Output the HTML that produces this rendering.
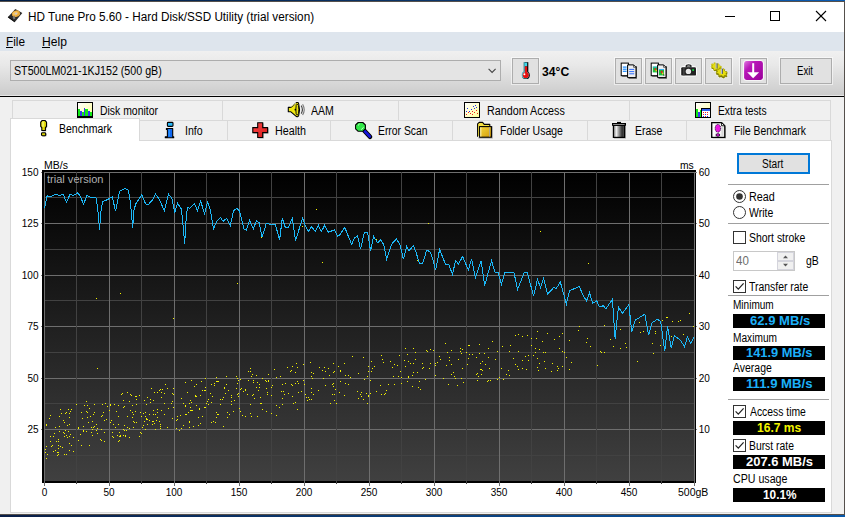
<!DOCTYPE html>
<html><head><meta charset="utf-8"><title>HD Tune Pro 5.60 - Hard Disk/SSD Utility (trial version)</title>
<style>
html,body{margin:0;padding:0}
body{width:845px;height:517px;overflow:hidden;position:relative;background:#f0f0f0;font-family:"Liberation Sans",sans-serif;font-size:12px;color:#000}
.b{position:absolute;box-sizing:border-box}
.t{position:absolute;white-space:nowrap;transform-origin:0 0;display:block}
svg{position:absolute;overflow:visible}
.btn{background:#e1e1e1;border:1px solid #adadad;box-shadow:0 0 0 1px rgba(255,255,255,.55)}
.blk{background:#000}
.sep{background:#a0a0a0;height:1px}
.chk{background:#fff;border:1px solid #333}
</style></head><body>
<div class="b" style="left:0px;top:0px;width:845px;height:1px;background:linear-gradient(90deg,#001c44 0%,#0a3468 50%,#0a5cb4 100%)"></div><div class="b" style="left:0px;top:1px;width:845px;height:1px;background:#55504c"></div><div class="b" style="left:0px;top:2px;width:844px;height:30px;background:#fff"></div><svg style="left:6px;top:7px" width="18" height="18" viewBox="6 7 18 18">
<polygon points="7.8,17.2 15.3,9.0 22.3,13.1 14.7,22.3" fill="#2a2a2a"/>
<polygon points="7.8,17.2 14.7,22.3 14.7,21.2 8.6,16.6" fill="#111"/>
<ellipse cx="16" cy="13.8" rx="4.1" ry="3.2" fill="#e8a83a" transform="rotate(-20 16 13.8)"/>
<ellipse cx="15.6" cy="13.3" rx="2.6" ry="1.9" fill="#f6c766" transform="rotate(-20 16 13.8)"/>
<ellipse cx="16.1" cy="13.6" rx="1.1" ry="0.9" fill="#c8c8d8"/>
<polygon points="12.6,17.2 14.6,15.6 15.4,18.8 13.6,19.6" fill="#777"/>
</svg><span class="t" style="left:27.64px;top:10.64px;font-size:12px;line-height:12px;color:#000;transform:scaleX(0.9772);">HD Tune Pro 5.60 - Hard Disk/SSD Utility (trial version)</span><svg style="left:0;top:0" width="845" height="32" shape-rendering="crispEdges">
<rect x="725" y="16" width="10" height="1" fill="#000"/>
<rect x="770.5" y="11.5" width="9" height="9" fill="none" stroke="#000" stroke-width="1"/>
<g shape-rendering="auto" stroke="#000" stroke-width="1.1"><line x1="816" y1="11" x2="826" y2="21"/><line x1="826" y1="11" x2="816" y2="21"/></g>
</svg><div class="b" style="left:0px;top:32px;width:844px;height:19px;background:#dee5ed"></div><span class="t" style="left:6.13px;top:36.34px;font-size:12px;line-height:12px;color:#000;transform:scaleX(0.9820);">File</span><div class="b" style="left:6px;top:47px;width:7px;height:1px;background:#000"></div><span class="t" style="left:42.01px;top:36.34px;font-size:12px;line-height:12px;color:#000;transform:scaleX(1.0083);">Help</span><div class="b" style="left:42px;top:47px;width:8px;height:1px;background:#000"></div><div class="b" style="left:0px;top:51px;width:844px;height:44px;background:linear-gradient(180deg,#f0f0f0 0%,#e9e9e9 30%,#cccccc 100%)"></div><div class="b" style="left:0px;top:95px;width:844px;height:1px;background:#e6e6e6"></div><div class="b" style="left:0px;top:96px;width:844px;height:1px;background:#000"></div><div class="b" style="left:10px;top:60px;width:491px;height:21px;background:#e4e4e4;border:1px solid #adadad"></div><span class="t" style="left:13.92px;top:64.84px;font-size:12px;line-height:12px;color:#000;transform:scaleX(0.8895);">ST500LM021-1KJ152 (500 gB)</span><svg style="left:486px;top:67px" width="12" height="8"><polyline points="2.6,1.9 6.1,5.4 9.6,1.9" fill="none" stroke="#444" stroke-width="1.1"/></svg><div class="b btn" style="left:512px;top:58px;width:27px;height:26px;"></div><svg style="left:519px;top:61px" width="14" height="19" viewBox="519 61 14 19">
<rect x="523.8" y="62.2" width="4.5" height="12" fill="#000"/>
<circle cx="525.9" cy="75.2" r="3.9" fill="#000"/>
<circle cx="525.3" cy="74.9" r="3.6" fill="#48c8d8"/>
<circle cx="525.7" cy="75.0" r="3.1" fill="#e81010"/>
<rect x="523.8" y="62.2" width="1" height="10.6" fill="#48c8d8"/>
<rect x="524.8" y="62.6" width="2.4" height="3.8" fill="#40d8e8"/>
<rect x="524.8" y="66.4" width="2.4" height="7" fill="#e81010"/>
<circle cx="524.4" cy="74.2" r="1" fill="#fff"/>
</svg><span class="t" style="left:542.33px;top:65.64px;font-size:12px;line-height:12px;font-weight:bold;color:#000;transform:scaleX(1.0145);">34°C</span><div class="b btn" style="left:615px;top:58px;width:27px;height:26px;"></div><div class="b btn" style="left:645px;top:58px;width:27px;height:26px;"></div><div class="b btn" style="left:675px;top:58px;width:27px;height:26px;"></div><div class="b btn" style="left:705px;top:58px;width:27px;height:26px;"></div><div class="b btn" style="left:740px;top:58px;width:27px;height:26px;"></div><div class="b btn" style="left:780px;top:58px;width:52px;height:26px;"></div><span class="t" style="left:797.12px;top:64.54px;font-size:12px;line-height:12px;color:#000;transform:scaleX(0.7974);">Exit</span><svg style="left:0;top:51px" width="845" height="45" viewBox="0 51 845 45">
<!-- copy text -->
<g>
<rect x="622.2" y="64.2" width="7.4" height="12.6" fill="#000" opacity=".55"/>
<rect x="621.2" y="63.1" width="7.2" height="12.6" fill="#fff" stroke="#000" stroke-width="1"/>
<rect x="622.8" y="66.5" width="3.8" height="1.2" fill="#1488ff"/><rect x="622.8" y="68.6" width="3.8" height="1.2" fill="#1488ff"/><rect x="622.8" y="70.7" width="3.8" height="1.2" fill="#1488ff"/>
<rect x="628.6" y="66" width="8.4" height="12.8" fill="#000" opacity=".55"/>
<polygon points="627.6,64.9 633.6,64.9 636,67.3 636,77.6 627.6,77.6" fill="#eee" stroke="#000" stroke-width="1"/>
<polygon points="633.6,64.9 636,67.3 633.6,67.3" fill="#fff" stroke="#000" stroke-width=".6"/>
<rect x="629.2" y="68.9" width="5" height="1" fill="#2d6cff"/><rect x="629.2" y="71.1" width="5" height="1" fill="#2d6cff"/><rect x="629.2" y="73.3" width="5" height="1" fill="#2d6cff"/>
</g>
<!-- copy screenshot -->
<g>
<rect x="652.2" y="64.2" width="7.4" height="12.6" fill="#000" opacity=".55"/>
<rect x="651.2" y="63.1" width="7.2" height="12.6" fill="#fff" stroke="#000" stroke-width="1"/>
<rect x="652.8" y="66.6" width="4.6" height="5.8" fill="#18c040"/><rect x="652.8" y="66.6" width="4.6" height="1" fill="#30b0f0"/>
<rect x="654.6" y="68.2" width="1.6" height="2.2" fill="#e02020"/><rect x="655.6" y="69.8" width="1.4" height="1.6" fill="#f0d020"/>
<rect x="658.6" y="66" width="8.4" height="12.8" fill="#000" opacity=".55"/>
<polygon points="657.6,64.9 663.6,64.9 666,67.3 666,77.6 657.6,77.6" fill="#eee" stroke="#000" stroke-width="1"/>
<polygon points="663.6,64.9 666,67.3 663.6,67.3" fill="#fff" stroke="#000" stroke-width=".6"/>
<rect x="659" y="69" width="5" height="6.4" fill="#18c040"/><rect x="659" y="69" width="5" height="1" fill="#30b0f0"/>
<rect x="660.8" y="70.8" width="1.8" height="2.4" fill="#e02020"/><rect x="662" y="72.6" width="1.4" height="1.8" fill="#f0d020"/>
<rect x="663.4" y="74.6" width="1" height="1" fill="#000"/>
</g>
<!-- camera -->
<g>
<path d="M680.2,69.2 q0,-3 3,-3 h1.2 q0.6,-3 4,-3 q3.4,0 4,3 h1.6 q3,0 3,3 v4.6 q0,2.8 -3,2.8 h-10.8 q-3,0 -3,-2.8 z" fill="#fff"/>
<rect x="681.2" y="67.2" width="14.8" height="8.4" rx="1.2" fill="#222"/>
<path d="M685.6,67.4 v-1.6 q0,-1.6 3,-1.6 q3,0 3,1.6 v1.6 z" fill="#222"/>
<path d="M686.8,66.4 q0,-1 1.8,-1 q1.8,0 1.8,1 z" fill="#ddd"/>
<rect x="683.4" y="67.2" width="1" height="8.4" fill="#555"/>
<circle cx="688.4" cy="71.4" r="2.7" fill="#e8e8e8"/>
<rect x="692.3" y="69.2" width="1.7" height="1.7" fill="#10e040"/>
</g>
<!-- gears -->
<g>
<polygon points="721.5,70.3 721.3,70.6 721.1,70.9 720.9,71.2 719.6,70.7 719.4,70.8 719.1,70.9 718.7,71.0 719.0,72.0 718.5,72.1 718.0,72.1 717.5,72.1 716.8,71.1 716.4,71.0 716.0,70.9 715.6,70.8 714.9,71.4 714.4,71.1 713.9,70.9 713.5,70.6 713.8,69.8 713.5,69.5 713.2,69.2 713.0,68.9 711.7,68.8 711.5,68.4 711.3,68.0 711.2,67.6 712.3,67.4 712.2,67.1 712.3,66.8 712.3,66.5 711.3,65.7 711.5,65.4 711.7,65.1 711.9,64.8 713.2,65.3 713.4,65.2 713.7,65.1 714.1,65.0 713.8,64.0 714.3,63.9 714.8,63.9 715.3,63.9 716.0,64.9 716.4,65.0 716.8,65.1 717.2,65.2 717.9,64.6 718.4,64.9 718.9,65.1 719.3,65.4 719.0,66.2 719.3,66.5 719.6,66.8 719.8,67.1 721.1,67.2 721.3,67.6 721.5,68.0 721.6,68.4 720.5,68.6 720.6,68.9 720.5,69.2 720.5,69.5" fill="#fff" stroke="#fff" stroke-width="1.4" stroke-linejoin="round"/>
<polygon points="727.1,76.1 726.9,76.4 726.7,76.8 726.4,77.1 725.1,76.5 724.8,76.7 724.5,76.8 724.1,77.0 724.4,78.0 723.9,78.0 723.3,78.1 722.8,78.1 722.1,77.0 721.7,77.0 721.3,76.9 720.8,76.7 720.1,77.4 719.6,77.1 719.1,76.8 718.6,76.5 718.9,75.6 718.6,75.3 718.3,75.0 718.1,74.7 716.7,74.6 716.5,74.2 716.3,73.7 716.2,73.3 717.3,73.1 717.3,72.7 717.3,72.4 717.4,72.1 716.3,71.3 716.5,71.0 716.7,70.6 717.0,70.3 718.3,70.9 718.6,70.7 718.9,70.6 719.3,70.4 719.0,69.4 719.5,69.4 720.1,69.3 720.6,69.3 721.3,70.4 721.7,70.4 722.1,70.5 722.6,70.7 723.3,70.0 723.8,70.3 724.3,70.6 724.8,70.9 724.5,71.8 724.8,72.1 725.1,72.4 725.3,72.7 726.7,72.8 726.9,73.2 727.1,73.7 727.2,74.1 726.1,74.3 726.1,74.7 726.1,75.0 726.0,75.3" fill="#fff" stroke="#fff" stroke-width="1.6" stroke-linejoin="round"/>
<polygon points="721.5,70.3 721.3,70.6 721.1,70.9 720.9,71.2 719.6,70.7 719.4,70.8 719.1,70.9 718.7,71.0 719.0,72.0 718.5,72.1 718.0,72.1 717.5,72.1 716.8,71.1 716.4,71.0 716.0,70.9 715.6,70.8 714.9,71.4 714.4,71.1 713.9,70.9 713.5,70.6 713.8,69.8 713.5,69.5 713.2,69.2 713.0,68.9 711.7,68.8 711.5,68.4 711.3,68.0 711.2,67.6 712.3,67.4 712.2,67.1 712.3,66.8 712.3,66.5 711.3,65.7 711.5,65.4 711.7,65.1 711.9,64.8 713.2,65.3 713.4,65.2 713.7,65.1 714.1,65.0 713.8,64.0 714.3,63.9 714.8,63.9 715.3,63.9 716.0,64.9 716.4,65.0 716.8,65.1 717.2,65.2 717.9,64.6 718.4,64.9 718.9,65.1 719.3,65.4 719.0,66.2 719.3,66.5 719.6,66.8 719.8,67.1 721.1,67.2 721.3,67.6 721.5,68.0 721.6,68.4 720.5,68.6 720.6,68.9 720.5,69.2 720.5,69.5" fill="#7c7800"/>
<polygon points="721.5,69.2 721.3,69.5 721.1,69.8 720.9,70.1 719.6,69.6 719.4,69.7 719.1,69.8 718.7,69.9 719.0,70.9 718.5,71.0 718.0,71.0 717.5,71.0 716.8,70.0 716.4,69.9 716.0,69.8 715.6,69.7 714.9,70.3 714.4,70.0 713.9,69.8 713.5,69.5 713.8,68.7 713.5,68.4 713.2,68.1 713.0,67.8 711.7,67.7 711.5,67.3 711.3,66.9 711.2,66.5 712.3,66.3 712.2,66.0 712.3,65.7 712.3,65.4 711.3,64.6 711.5,64.3 711.7,64.0 711.9,63.7 713.2,64.2 713.4,64.1 713.7,64.0 714.1,63.9 713.8,62.9 714.3,62.8 714.8,62.8 715.3,62.8 716.0,63.8 716.4,63.9 716.8,64.0 717.2,64.1 717.9,63.5 718.4,63.8 718.9,64.0 719.3,64.3 719.0,65.1 719.3,65.4 719.6,65.7 719.8,66.0 721.1,66.1 721.3,66.5 721.5,66.9 721.6,67.3 720.5,67.5 720.6,67.8 720.5,68.1 720.5,68.4" fill="#e6de10" stroke="#a8a200" stroke-width=".5"/>
<rect x="715.5" y="63.3" width="1.2" height="5.2" fill="#b8bcc8"/><rect x="716.7" y="63.3" width=".9" height="5.2" fill="#505868"/>
<polygon points="727.1,76.1 726.9,76.4 726.7,76.8 726.4,77.1 725.1,76.5 724.8,76.7 724.5,76.8 724.1,77.0 724.4,78.0 723.9,78.0 723.3,78.1 722.8,78.1 722.1,77.0 721.7,77.0 721.3,76.9 720.8,76.7 720.1,77.4 719.6,77.1 719.1,76.8 718.6,76.5 718.9,75.6 718.6,75.3 718.3,75.0 718.1,74.7 716.7,74.6 716.5,74.2 716.3,73.7 716.2,73.3 717.3,73.1 717.3,72.7 717.3,72.4 717.4,72.1 716.3,71.3 716.5,71.0 716.7,70.6 717.0,70.3 718.3,70.9 718.6,70.7 718.9,70.6 719.3,70.4 719.0,69.4 719.5,69.4 720.1,69.3 720.6,69.3 721.3,70.4 721.7,70.4 722.1,70.5 722.6,70.7 723.3,70.0 723.8,70.3 724.3,70.6 724.8,70.9 724.5,71.8 724.8,72.1 725.1,72.4 725.3,72.7 726.7,72.8 726.9,73.2 727.1,73.7 727.2,74.1 726.1,74.3 726.1,74.7 726.1,75.0 726.0,75.3" fill="#7c7800" stroke="#7c7800" stroke-width=".7"/>
<polygon points="727.1,74.8 726.9,75.1 726.7,75.5 726.4,75.8 725.1,75.2 724.8,75.4 724.5,75.5 724.1,75.7 724.4,76.7 723.9,76.7 723.3,76.8 722.8,76.8 722.1,75.7 721.7,75.7 721.3,75.6 720.8,75.4 720.1,76.1 719.6,75.8 719.1,75.5 718.6,75.2 718.9,74.3 718.6,74.0 718.3,73.7 718.1,73.4 716.7,73.3 716.5,72.9 716.3,72.4 716.2,72.0 717.3,71.8 717.3,71.4 717.3,71.1 717.4,70.8 716.3,70.0 716.5,69.7 716.7,69.3 717.0,69.0 718.3,69.6 718.6,69.4 718.9,69.3 719.3,69.1 719.0,68.1 719.5,68.1 720.1,68.0 720.6,68.0 721.3,69.1 721.7,69.1 722.1,69.2 722.6,69.4 723.3,68.7 723.8,69.0 724.3,69.3 724.8,69.6 724.5,70.5 724.8,70.8 725.1,71.1 725.3,71.4 726.7,71.5 726.9,71.9 727.1,72.4 727.2,72.8 726.1,73.0 726.1,73.4 726.1,73.7 726.0,74.0" fill="#e6de10" stroke="#8a8600" stroke-width=".7"/>
<rect x="720.8" y="68.7" width="1.2" height="5.2" fill="#b8bcc8"/><rect x="722" y="68.7" width=".9" height="5.2" fill="#505868"/>
</g>
<!-- purple arrow -->
<g>
<defs><linearGradient id="pg" x1="0" y1="0" x2="1" y2="1"><stop offset="0" stop-color="#e078e0"/><stop offset=".3" stop-color="#b818b8"/><stop offset="1" stop-color="#9a009a"/></linearGradient></defs>
<rect x="743.2" y="60.2" width="20.6" height="20.6" rx="3" fill="#fff" opacity=".9"/>
<rect x="744.1" y="61.1" width="18.8" height="18.8" rx="2.4" fill="url(#pg)"/>
<rect x="752.2" y="63.2" width="2" height="11" fill="#fff"/>
<polygon points="747.2,72.2 759.1,72.2 753.15,78.3" fill="#fff"/>
</g>
</svg><div class="b" style="left:12px;top:100px;width:819px;height:21px;border:1px solid #d9d9d9;background:#f0f0f0"></div><div class="b" style="left:222px;top:100px;width:1px;height:21px;background:#d9d9d9"></div><div class="b" style="left:398px;top:100px;width:1px;height:21px;background:#d9d9d9"></div><div class="b" style="left:629px;top:100px;width:1px;height:21px;background:#d9d9d9"></div><div class="b" style="left:139px;top:120px;width:692px;height:21px;border:1px solid #d9d9d9;background:#f0f0f0"></div><div class="b" style="left:227px;top:120px;width:1px;height:21px;background:#d9d9d9"></div><div class="b" style="left:330px;top:120px;width:1px;height:21px;background:#d9d9d9"></div><div class="b" style="left:452px;top:120px;width:1px;height:21px;background:#d9d9d9"></div><div class="b" style="left:587px;top:120px;width:1px;height:21px;background:#d9d9d9"></div><div class="b" style="left:686px;top:120px;width:1px;height:21px;background:#d9d9d9"></div><div class="b" style="left:10px;top:140px;width:822px;height:373px;border:1px solid #d9d9d9;background:#fff"></div><div class="b" style="left:10px;top:118px;width:130px;height:23px;border:1px solid #d9d9d9;border-bottom:none;background:#fff"></div><span class="t" style="left:99.95px;top:104.74px;font-size:12px;line-height:12px;color:#000;transform:scaleX(0.8686);">Disk monitor</span><span class="t" style="left:310.98px;top:104.54px;font-size:12px;line-height:12px;color:#000;transform:scaleX(0.8801);">AAM</span><span class="t" style="left:486.92px;top:104.64px;font-size:12px;line-height:12px;color:#000;transform:scaleX(0.8969);">Random Access</span><span class="t" style="left:717.76px;top:104.74px;font-size:12px;line-height:12px;color:#000;transform:scaleX(0.8576);">Extra tests</span><span class="t" style="left:58.94px;top:123.34px;font-size:12px;line-height:12px;color:#000;transform:scaleX(0.8738);">Benchmark</span><span class="t" style="left:185.03px;top:124.74px;font-size:12px;line-height:12px;color:#000;transform:scaleX(0.8795);">Info</span><span class="t" style="left:274.62px;top:124.74px;font-size:12px;line-height:12px;color:#000;transform:scaleX(0.8959);">Health</span><span class="t" style="left:377.95px;top:124.64px;font-size:12px;line-height:12px;color:#000;transform:scaleX(0.8634);">Error Scan</span><span class="t" style="left:499.74px;top:124.64px;font-size:12px;line-height:12px;color:#000;transform:scaleX(0.8735);">Folder Usage</span><span class="t" style="left:634.64px;top:124.64px;font-size:12px;line-height:12px;color:#000;transform:scaleX(0.8715);">Erase</span><span class="t" style="left:734.35px;top:124.64px;font-size:12px;line-height:12px;color:#000;transform:scaleX(0.8616);">File Benchmark</span><svg style="left:0;top:98px" width="845" height="44" viewBox="0 98 845 44">
<defs>
<linearGradient id="yl" x1="0" y1="0" x2="1" y2="1"><stop offset="0" stop-color="#ffffff"/><stop offset="1" stop-color="#ffff9a"/></linearGradient>
<linearGradient id="fold" x1="0" y1="0" x2="1" y2="1"><stop offset="0" stop-color="#f4d840"/><stop offset="1" stop-color="#d49c08"/></linearGradient>
<linearGradient id="can" x1="0" y1="0" x2="1" y2="0"><stop offset="0" stop-color="#666"/><stop offset=".26" stop-color="#f2f2f2"/><stop offset=".48" stop-color="#999"/><stop offset=".78" stop-color="#303030"/><stop offset="1" stop-color="#555"/></linearGradient>
<linearGradient id="redg" x1="0" y1="0" x2="1" y2="1"><stop offset="0" stop-color="#ff4848"/><stop offset="1" stop-color="#d01818"/></linearGradient>
</defs>
<!-- disk monitor -->
<g shape-rendering="crispEdges">
<rect x="77" y="102" width="16" height="16" fill="#000"/>
<rect x="78" y="103" width="14" height="13" fill="url(#yl)"/>
<rect x="78" y="109" width="2" height="7" fill="#10e818"/>
<rect x="80" y="111" width="2" height="5" fill="#3838f0"/>
<rect x="82" y="112" width="2" height="4" fill="#10e818"/>
<rect x="84" y="108" width="1" height="8" fill="#3838f0"/>
<rect x="85" y="109" width="3" height="7" fill="#10e818"/>
<rect x="88" y="111" width="2" height="5" fill="#3838f0"/>
<rect x="90" y="112" width="2" height="4" fill="#10e818"/>
</g>
<!-- AAM speaker -->
<g>
<path d="M288.3,107.4 h2.6 l5.6,-4.8 q1.6,-.6 2.2,1.2 q1.6,5.8 0,11.6 q-.6,1.8 -2.2,1.2 l-5.6,-4.8 h-2.6 z" fill="#f0e810" stroke="#000" stroke-width="1.1" stroke-linejoin="round"/>
<ellipse cx="297.3" cy="109.6" rx="1.5" ry="5.6" fill="#e8e010" stroke="#000" stroke-width=".9"/>
<rect x="294.6" y="108.9" width="1.6" height="1.5" fill="#000"/>
<path d="M290.6,106.8 l5.4,-3.6" stroke="#ffffa0" stroke-width=".8"/>
<path d="M301.2,105.6 q2.4,4 0,8" fill="none" stroke="#444" stroke-width="1.1"/>
<path d="M302.6,104.2 q3.2,5.4 0,10.8" fill="none" stroke="#777" stroke-width="1.1"/>
</g>
<!-- random access -->
<g shape-rendering="crispEdges">
<rect x="464" y="102" width="16.4" height="16.2" fill="#000"/>
<rect x="465" y="103" width="13.8" height="13.6" fill="url(#yl)"/>
<g fill="#2030f0"><rect x="467" y="108" width="1" height="1"/><rect x="469" y="111" width="1" height="1"/><rect x="471" y="109" width="1" height="1"/><rect x="473" y="106" width="1" height="1"/><rect x="475" y="105" width="1" height="1"/><rect x="474" y="108" width="1" height="1"/><rect x="466" y="111" width="1" height="1"/><rect x="476" y="107" width="1" height="1"/></g>
<g fill="#f02020"><rect x="466" y="114" width="1" height="1"/><rect x="468" y="112" width="1" height="1"/><rect x="470" y="113" width="1" height="1"/><rect x="472" y="111" width="1" height="1"/><rect x="474" y="112" width="1" height="1"/><rect x="476" y="110" width="1" height="1"/><rect x="477" y="113" width="1" height="1"/><rect x="472" y="114" width="1" height="1"/></g>
</g>
<!-- extra tests -->
<g shape-rendering="crispEdges">
<rect x="695" y="102" width="16.4" height="16.2" fill="#000"/>
<rect x="696" y="103" width="14" height="13.6" fill="url(#yl)"/>
<rect x="696" y="109" width="2" height="7.6" fill="#10e818"/>
<rect x="698" y="112" width="2" height="4.6" fill="#3838f0"/>
<rect x="700" y="110" width="1" height="6.6" fill="#10e818"/>
<rect x="701" y="108" width="10" height="10" fill="#000"/>
<rect x="702" y="109" width="8" height="1.6" fill="#3060f0"/>
<rect x="702" y="110.6" width="8" height="6.2" fill="#fff"/>
<g fill="#f02020"><rect x="703" y="112" width="1" height="1"/><rect x="705" y="112" width="1" height="1"/><rect x="707" y="112" width="1" height="1"/><rect x="703" y="114" width="1" height="1"/><rect x="707" y="114" width="1" height="1"/><rect x="705" y="115.6" width="1" height="1"/></g>
<g fill="#2030f0"><rect x="705" y="114" width="1" height="1"/><rect x="703" y="115.6" width="1" height="1"/><rect x="707" y="115.6" width="1" height="1"/></g>
</g>
<!-- benchmark exclamation -->
<g>
<path d="M42.9,121.2 h2.8 l1.6,1.6 v4.2 l-1.1,1.4 v3 h-3.8 v-3 l-1.1,-1.4 v-4.2 z" fill="#555" opacity=".5"/>
<path d="M42.2,120.5 h2.8 l1.5,1.6 v4.2 l-1.1,1.4 v2.8 h-3.6 v-2.8 l-1.1,-1.4 v-4.2 z" fill="#e4dc08" stroke="#000" stroke-width="1.1" stroke-linejoin="round"/>
<rect x="42.2" y="121.6" width="1.6" height="5.2" fill="#f8f890" opacity=".8"/>
<rect x="42.2" y="133.4" width="4.4" height="3.2" rx="1" fill="#555" opacity=".5"/>
<rect x="41.5" y="132.7" width="4.2" height="3" rx=".9" fill="#d8d000" stroke="#000" stroke-width="1.1"/>
</g>
<!-- info -->
<g>
<rect x="167.4" y="122.4" width="5.6" height="4" rx=".8" fill="#28b8f8" stroke="#000" stroke-width="1.1"/>
<path d="M166.4,128.5 h6.3 v8.3 h1 v1 h-8.4 v-1 h2.1 v-7.3 h-1 z" fill="#1068f0" stroke="#000" stroke-width="1.1" stroke-linejoin="round"/>
<rect x="168.6" y="129.6" width="1.4" height="6.6" fill="#30a0ff" opacity=".7"/>
</g>
<!-- health cross -->
<g>
<path d="M258.4,123.4 h5.4 v4.8 h4.9 v5.4 h-4.9 v4.8 h-5.4 v-4.8 h-4.9 v-5.4 h4.9 z" fill="#555" opacity=".45"/>
<path d="M257.7,122.7 h5 v4.9 h4.9 v5 h-4.9 v4.9 h-5 v-4.9 h-4.9 v-5 h4.9 z" fill="url(#redg)" stroke="#000" stroke-width="1.1" stroke-linejoin="miter"/>
</g>
<!-- error scan magnifier -->
<g>
<path d="M364.4,130.8 l5.6,6" stroke="#000" stroke-width="4.6" stroke-linecap="round"/>
<path d="M364.6,131 l5.2,5.5" stroke="#1414d8" stroke-width="2.6" stroke-linecap="round"/>
<polygon points="358.2,122.5 362.8,122.5 365.4,125 365.4,128.8 362.8,131.3 358.2,131.3 355.6,128.8 355.6,125" fill="#30e848" stroke="#000" stroke-width="1.1" stroke-linejoin="round"/>
<path d="M358,125.4 l1.6,-1.4 M361.2,129.6 l2.4,-2.3" stroke="#d8ffd8" stroke-width=".9"/>
</g>
<!-- folder -->
<g>
<path d="M478.4,137.9 h13.8 v-11 h-1" fill="none" stroke="#555" stroke-width="1.2" opacity=".5"/>
<path d="M477.6,136.8 v-13 l1.6,-1.4 h3.4 l1.6,2 h5.6 v2.2" fill="#f4e040" stroke="#000" stroke-width="1.1" stroke-linejoin="round"/>
<rect x="479.6" y="126.6" width="11.8" height="10.6" fill="url(#fold)" stroke="#000" stroke-width="1.1"/>
<rect x="480.3" y="127.3" width="1" height="9.2" fill="#fff8c0"/>
<rect x="489" y="127.2" width=".8" height="9.4" fill="#a8a8a0"/>
</g>
<!-- erase trash can -->
<g>
<rect x="614" y="126" width="12" height="12.6" fill="#555" opacity=".4"/>
<rect x="613.4" y="125.2" width="11.2" height="12.2" fill="url(#can)" stroke="#000" stroke-width="1.2"/>
<rect x="617" y="121.9" width="4" height="2" fill="#000"/>
<rect x="612" y="123" width="14" height="2.8" fill="#000"/>
<rect x="613.2" y="124" width="11.4" height=".9" fill="#999"/>
</g>
<!-- file benchmark -->
<g>
<polygon points="712.6,123.4 722.6,123.4 726,126.8 726,138.6 712.6,138.6" fill="#555" opacity=".4"/>
<polygon points="711.7,122.6 721.6,122.6 724.8,125.8 724.8,137.3 711.7,137.3" fill="#f4f4f4" stroke="#000" stroke-width="1.3" stroke-linejoin="miter"/>
<polygon points="721.6,122.6 721.6,125.8 724.8,125.8" fill="#fff" stroke="#000" stroke-width=".9"/>
<rect x="713" y="124" width="2" height="12.4" fill="#fff"/><rect x="721.4" y="126.8" width="2" height="9.6" fill="#d8d8d8"/>
<ellipse cx="717.9" cy="128.3" rx="2.7" ry="3.9" fill="#e818e0" stroke="#201030" stroke-width=".9" stroke-dasharray="1.2 .8"/>
<ellipse cx="717.9" cy="135" rx="1.9" ry="1.3" fill="#e818e0" stroke="#201030" stroke-width=".9"/>
</g>
</svg><svg style="left:0;top:150px" width="845" height="352" viewBox="0 150 845 352"><defs><linearGradient id="gbg" x1="0" y1="0" x2="0" y2="1"><stop offset="0" stop-color="#000"/><stop offset="1" stop-color="#404040"/></linearGradient></defs><g shape-rendering="crispEdges"><rect x="42" y="170" width="654" height="313" fill="#000"/><rect x="44" y="172" width="651" height="309" fill="url(#gbg)"/><rect x="44" y="172" width="651" height="1" fill="#6e6e6e"/><rect x="41" y="172" width="1" height="1" fill="#808080"/><rect x="695" y="172" width="2" height="1" fill="#808080"/><rect x="44" y="197" width="651" height="1" fill="#424242"/><rect x="44" y="223" width="651" height="1" fill="#6e6e6e"/><rect x="41" y="223" width="1" height="1" fill="#808080"/><rect x="695" y="223" width="2" height="1" fill="#808080"/><rect x="44" y="249" width="651" height="1" fill="#424242"/><rect x="44" y="275" width="651" height="1" fill="#6e6e6e"/><rect x="41" y="275" width="1" height="1" fill="#808080"/><rect x="695" y="275" width="2" height="1" fill="#808080"/><rect x="44" y="300" width="651" height="1" fill="#424242"/><rect x="44" y="326" width="651" height="1" fill="#6e6e6e"/><rect x="41" y="326" width="1" height="1" fill="#808080"/><rect x="695" y="326" width="2" height="1" fill="#808080"/><rect x="44" y="352" width="651" height="1" fill="#424242"/><rect x="44" y="378" width="651" height="1" fill="#6e6e6e"/><rect x="41" y="378" width="1" height="1" fill="#808080"/><rect x="695" y="378" width="2" height="1" fill="#808080"/><rect x="44" y="403" width="651" height="1" fill="#424242"/><rect x="44" y="429" width="651" height="1" fill="#6e6e6e"/><rect x="41" y="429" width="1" height="1" fill="#808080"/><rect x="695" y="429" width="2" height="1" fill="#808080"/><rect x="44" y="455" width="651" height="1" fill="#424242"/><rect x="695" y="173" width="1" height="310" fill="#000"/><rect x="42" y="481" width="654" height="2" fill="#000"/><rect x="44" y="172" width="1" height="314" fill="#6e6e6e"/><rect x="76" y="172" width="1" height="312" fill="#424242"/><rect x="109" y="172" width="1" height="314" fill="#6e6e6e"/><rect x="141" y="172" width="1" height="312" fill="#424242"/><rect x="174" y="172" width="1" height="314" fill="#6e6e6e"/><rect x="206" y="172" width="1" height="312" fill="#424242"/><rect x="239" y="172" width="1" height="314" fill="#6e6e6e"/><rect x="271" y="172" width="1" height="312" fill="#424242"/><rect x="304" y="172" width="1" height="314" fill="#6e6e6e"/><rect x="336" y="172" width="1" height="312" fill="#424242"/><rect x="369" y="172" width="1" height="314" fill="#6e6e6e"/><rect x="401" y="172" width="1" height="312" fill="#424242"/><rect x="434" y="172" width="1" height="314" fill="#6e6e6e"/><rect x="466" y="172" width="1" height="312" fill="#424242"/><rect x="499" y="172" width="1" height="314" fill="#6e6e6e"/><rect x="531" y="172" width="1" height="312" fill="#424242"/><rect x="564" y="172" width="1" height="314" fill="#6e6e6e"/><rect x="596" y="172" width="1" height="312" fill="#424242"/><rect x="629" y="172" width="1" height="314" fill="#6e6e6e"/><rect x="661" y="172" width="1" height="312" fill="#424242"/><rect x="694" y="172" width="1" height="314" fill="#6e6e6e"/><path d="M45,449h1v1h-1zM45,452h1v1h-1zM46,458h1v1h-1zM46,424h1v1h-1zM46,446h1v1h-1zM46,425h1v1h-1zM47,454h1v1h-1zM49,418h1v1h-1zM50,441h1v1h-1zM50,441h1v1h-1zM50,415h1v1h-1zM50,436h1v1h-1zM51,446h1v1h-1zM52,445h1v1h-1zM53,451h1v1h-1zM53,436h1v1h-1zM54,433h1v1h-1zM55,450h1v1h-1zM55,427h1v1h-1zM56,441h1v1h-1zM57,452h1v1h-1zM57,455h1v1h-1zM58,439h1v1h-1zM58,441h1v1h-1zM58,454h1v1h-1zM58,448h1v1h-1zM58,445h1v1h-1zM58,452h1v1h-1zM59,416h1v1h-1zM59,426h1v1h-1zM59,431h1v1h-1zM60,409h1v1h-1zM60,446h1v1h-1zM61,413h1v1h-1zM62,447h1v1h-1zM63,420h1v1h-1zM63,432h1v1h-1zM64,454h1v1h-1zM64,436h1v1h-1zM64,454h1v1h-1zM64,433h1v1h-1zM64,422h1v1h-1zM65,430h1v1h-1zM65,413h1v1h-1zM66,435h1v1h-1zM66,454h1v1h-1zM66,412h1v1h-1zM67,425h1v1h-1zM67,437h1v1h-1zM68,409h1v1h-1zM68,431h1v1h-1zM69,443h1v1h-1zM69,436h1v1h-1zM69,424h1v1h-1zM69,450h1v1h-1zM69,417h1v1h-1zM69,413h1v1h-1zM70,411h1v1h-1zM70,434h1v1h-1zM71,445h1v1h-1zM71,409h1v1h-1zM73,437h1v1h-1zM73,451h1v1h-1zM76,404h1v1h-1zM78,440h1v1h-1zM78,427h1v1h-1zM78,428h1v1h-1zM80,434h1v1h-1zM81,412h1v1h-1zM81,445h1v1h-1zM82,418h1v1h-1zM83,426h1v1h-1zM83,430h1v1h-1zM83,431h1v1h-1zM84,405h1v1h-1zM86,401h1v1h-1zM86,431h1v1h-1zM86,411h1v1h-1zM87,417h1v1h-1zM87,405h1v1h-1zM87,412h1v1h-1zM88,422h1v1h-1zM89,445h1v1h-1zM89,408h1v1h-1zM90,416h1v1h-1zM91,427h1v1h-1zM91,432h1v1h-1zM92,429h1v1h-1zM92,421h1v1h-1zM92,435h1v1h-1zM93,427h1v1h-1zM93,414h1v1h-1zM94,426h1v1h-1zM94,404h1v1h-1zM94,412h1v1h-1zM96,424h1v1h-1zM96,430h1v1h-1zM97,433h1v1h-1zM97,428h1v1h-1zM100,439h1v1h-1zM101,416h1v1h-1zM101,429h1v1h-1zM101,440h1v1h-1zM102,415h1v1h-1zM102,404h1v1h-1zM103,412h1v1h-1zM104,441h1v1h-1zM104,432h1v1h-1zM104,420h1v1h-1zM105,403h1v1h-1zM106,419h1v1h-1zM107,406h1v1h-1zM109,410h1v1h-1zM110,405h1v1h-1zM110,422h1v1h-1zM110,404h1v1h-1zM111,420h1v1h-1zM112,432h1v1h-1zM112,436h1v1h-1zM113,437h1v1h-1zM113,424h1v1h-1zM114,404h1v1h-1zM115,427h1v1h-1zM116,411h1v1h-1zM117,435h1v1h-1zM118,441h1v1h-1zM118,405h1v1h-1zM118,416h1v1h-1zM118,424h1v1h-1zM119,432h1v1h-1zM119,440h1v1h-1zM119,436h1v1h-1zM120,436h1v1h-1zM120,435h1v1h-1zM121,394h1v1h-1zM122,393h1v1h-1zM123,400h1v1h-1zM123,407h1v1h-1zM123,435h1v1h-1zM123,429h1v1h-1zM124,425h1v1h-1zM124,430h1v1h-1zM124,406h1v1h-1zM125,436h1v1h-1zM125,435h1v1h-1zM126,430h1v1h-1zM127,416h1v1h-1zM127,392h1v1h-1zM127,427h1v1h-1zM129,401h1v1h-1zM129,428h1v1h-1zM129,437h1v1h-1zM130,394h1v1h-1zM130,410h1v1h-1zM131,395h1v1h-1zM132,417h1v1h-1zM132,412h1v1h-1zM132,405h1v1h-1zM133,421h1v1h-1zM133,414h1v1h-1zM133,427h1v1h-1zM134,422h1v1h-1zM135,396h1v1h-1zM135,411h1v1h-1zM136,396h1v1h-1zM136,422h1v1h-1zM136,404h1v1h-1zM136,399h1v1h-1zM139,395h1v1h-1zM139,436h1v1h-1zM140,432h1v1h-1zM140,412h1v1h-1zM141,433h1v1h-1zM141,416h1v1h-1zM142,427h1v1h-1zM143,425h1v1h-1zM143,413h1v1h-1zM144,400h1v1h-1zM144,421h1v1h-1zM145,416h1v1h-1zM145,429h1v1h-1zM145,412h1v1h-1zM146,419h1v1h-1zM146,404h1v1h-1zM146,418h1v1h-1zM147,397h1v1h-1zM147,419h1v1h-1zM147,424h1v1h-1zM149,414h1v1h-1zM149,420h1v1h-1zM150,402h1v1h-1zM150,399h1v1h-1zM151,388h1v1h-1zM152,424h1v1h-1zM152,421h1v1h-1zM153,414h1v1h-1zM153,414h1v1h-1zM153,410h1v1h-1zM153,400h1v1h-1zM153,421h1v1h-1zM154,392h1v1h-1zM154,423h1v1h-1zM155,429h1v1h-1zM155,414h1v1h-1zM156,420h1v1h-1zM157,392h1v1h-1zM157,409h1v1h-1zM157,412h1v1h-1zM157,417h1v1h-1zM159,421h1v1h-1zM159,390h1v1h-1zM160,426h1v1h-1zM160,424h1v1h-1zM160,389h1v1h-1zM160,428h1v1h-1zM161,410h1v1h-1zM161,392h1v1h-1zM161,397h1v1h-1zM162,389h1v1h-1zM164,414h1v1h-1zM164,403h1v1h-1zM164,393h1v1h-1zM165,384h1v1h-1zM167,388h1v1h-1zM167,427h1v1h-1zM168,408h1v1h-1zM171,403h1v1h-1zM172,401h1v1h-1zM172,418h1v1h-1zM172,393h1v1h-1zM173,394h1v1h-1zM173,407h1v1h-1zM173,388h1v1h-1zM176,420h1v1h-1zM176,428h1v1h-1zM177,419h1v1h-1zM177,416h1v1h-1zM179,430h1v1h-1zM180,415h1v1h-1zM181,398h1v1h-1zM181,428h1v1h-1zM183,425h1v1h-1zM183,403h1v1h-1zM185,382h1v1h-1zM185,414h1v1h-1zM185,405h1v1h-1zM185,406h1v1h-1zM186,414h1v1h-1zM187,392h1v1h-1zM188,412h1v1h-1zM189,403h1v1h-1zM189,422h1v1h-1zM189,421h1v1h-1zM189,427h1v1h-1zM190,410h1v1h-1zM190,407h1v1h-1zM190,400h1v1h-1zM191,410h1v1h-1zM191,380h1v1h-1zM191,402h1v1h-1zM192,410h1v1h-1zM193,426h1v1h-1zM194,386h1v1h-1zM195,396h1v1h-1zM195,395h1v1h-1zM196,405h1v1h-1zM196,384h1v1h-1zM196,396h1v1h-1zM198,417h1v1h-1zM198,425h1v1h-1zM199,409h1v1h-1zM199,408h1v1h-1zM200,395h1v1h-1zM200,423h1v1h-1zM201,381h1v1h-1zM202,416h1v1h-1zM202,390h1v1h-1zM204,407h1v1h-1zM204,390h1v1h-1zM205,390h1v1h-1zM205,407h1v1h-1zM205,387h1v1h-1zM205,378h1v1h-1zM206,403h1v1h-1zM207,401h1v1h-1zM208,399h1v1h-1zM208,404h1v1h-1zM210,393h1v1h-1zM211,422h1v1h-1zM211,402h1v1h-1zM211,384h1v1h-1zM212,396h1v1h-1zM213,421h1v1h-1zM214,385h1v1h-1zM214,383h1v1h-1zM215,422h1v1h-1zM216,377h1v1h-1zM216,412h1v1h-1zM216,381h1v1h-1zM216,417h1v1h-1zM217,381h1v1h-1zM217,414h1v1h-1zM218,381h1v1h-1zM218,414h1v1h-1zM220,399h1v1h-1zM220,404h1v1h-1zM222,399h1v1h-1zM223,426h1v1h-1zM223,397h1v1h-1zM224,387h1v1h-1zM224,388h1v1h-1zM225,393h1v1h-1zM226,376h1v1h-1zM226,384h1v1h-1zM227,417h1v1h-1zM227,412h1v1h-1zM228,390h1v1h-1zM229,414h1v1h-1zM231,404h1v1h-1zM231,397h1v1h-1zM231,401h1v1h-1zM231,395h1v1h-1zM233,411h1v1h-1zM233,411h1v1h-1zM234,400h1v1h-1zM234,400h1v1h-1zM236,388h1v1h-1zM236,376h1v1h-1zM237,378h1v1h-1zM237,383h1v1h-1zM237,394h1v1h-1zM238,393h1v1h-1zM238,380h1v1h-1zM238,396h1v1h-1zM239,408h1v1h-1zM240,379h1v1h-1zM240,411h1v1h-1zM240,389h1v1h-1zM241,388h1v1h-1zM242,415h1v1h-1zM243,391h1v1h-1zM245,389h1v1h-1zM245,390h1v1h-1zM245,416h1v1h-1zM247,394h1v1h-1zM248,371h1v1h-1zM248,380h1v1h-1zM250,404h1v1h-1zM250,368h1v1h-1zM250,371h1v1h-1zM250,413h1v1h-1zM251,416h1v1h-1zM251,376h1v1h-1zM252,374h1v1h-1zM252,395h1v1h-1zM253,382h1v1h-1zM253,380h1v1h-1zM253,394h1v1h-1zM253,394h1v1h-1zM254,398h1v1h-1zM256,375h1v1h-1zM256,387h1v1h-1zM257,416h1v1h-1zM257,382h1v1h-1zM258,390h1v1h-1zM259,384h1v1h-1zM259,387h1v1h-1zM260,397h1v1h-1zM260,403h1v1h-1zM261,403h1v1h-1zM262,378h1v1h-1zM262,409h1v1h-1zM265,380h1v1h-1zM266,381h1v1h-1zM266,411h1v1h-1zM266,388h1v1h-1zM267,394h1v1h-1zM267,392h1v1h-1zM268,380h1v1h-1zM268,374h1v1h-1zM268,381h1v1h-1zM271,395h1v1h-1zM271,413h1v1h-1zM271,387h1v1h-1zM272,385h1v1h-1zM274,369h1v1h-1zM276,377h1v1h-1zM276,405h1v1h-1zM276,415h1v1h-1zM279,407h1v1h-1zM280,376h1v1h-1zM281,391h1v1h-1zM282,384h1v1h-1zM282,404h1v1h-1zM282,398h1v1h-1zM283,391h1v1h-1zM284,394h1v1h-1zM285,383h1v1h-1zM287,367h1v1h-1zM288,393h1v1h-1zM290,371h1v1h-1zM291,384h1v1h-1zM291,370h1v1h-1zM292,366h1v1h-1zM292,396h1v1h-1zM292,385h1v1h-1zM293,403h1v1h-1zM295,402h1v1h-1zM295,372h1v1h-1zM295,383h1v1h-1zM296,363h1v1h-1zM297,381h1v1h-1zM297,367h1v1h-1zM297,409h1v1h-1zM298,392h1v1h-1zM298,383h1v1h-1zM301,391h1v1h-1zM303,380h1v1h-1zM303,364h1v1h-1zM304,384h1v1h-1zM305,394h1v1h-1zM306,397h1v1h-1zM307,400h1v1h-1zM308,397h1v1h-1zM309,399h1v1h-1zM310,362h1v1h-1zM311,376h1v1h-1zM311,399h1v1h-1zM311,372h1v1h-1zM311,392h1v1h-1zM311,388h1v1h-1zM312,378h1v1h-1zM312,378h1v1h-1zM313,394h1v1h-1zM313,373h1v1h-1zM318,390h1v1h-1zM319,367h1v1h-1zM322,370h1v1h-1zM323,378h1v1h-1zM324,367h1v1h-1zM325,371h1v1h-1zM325,385h1v1h-1zM328,368h1v1h-1zM329,375h1v1h-1zM330,403h1v1h-1zM332,394h1v1h-1zM332,384h1v1h-1zM333,372h1v1h-1zM333,386h1v1h-1zM333,363h1v1h-1zM333,383h1v1h-1zM334,400h1v1h-1zM334,394h1v1h-1zM334,371h1v1h-1zM335,389h1v1h-1zM336,403h1v1h-1zM338,366h1v1h-1zM339,392h1v1h-1zM340,371h1v1h-1zM340,370h1v1h-1zM340,381h1v1h-1zM344,395h1v1h-1zM344,363h1v1h-1zM345,383h1v1h-1zM345,375h1v1h-1zM348,375h1v1h-1zM348,384h1v1h-1zM350,377h1v1h-1zM352,356h1v1h-1zM357,391h1v1h-1zM358,373h1v1h-1zM358,398h1v1h-1zM360,394h1v1h-1zM361,396h1v1h-1zM361,392h1v1h-1zM363,399h1v1h-1zM363,357h1v1h-1zM364,379h1v1h-1zM366,393h1v1h-1zM367,403h1v1h-1zM367,376h1v1h-1zM368,396h1v1h-1zM368,395h1v1h-1zM368,371h1v1h-1zM368,366h1v1h-1zM370,380h1v1h-1zM370,393h1v1h-1zM371,371h1v1h-1zM371,361h1v1h-1zM372,368h1v1h-1zM374,366h1v1h-1zM376,391h1v1h-1zM380,385h1v1h-1zM381,355h1v1h-1zM381,394h1v1h-1zM382,359h1v1h-1zM383,362h1v1h-1zM384,394h1v1h-1zM385,393h1v1h-1zM386,390h1v1h-1zM388,384h1v1h-1zM390,361h1v1h-1zM392,367h1v1h-1zM393,376h1v1h-1zM394,384h1v1h-1zM394,364h1v1h-1zM397,365h1v1h-1zM398,376h1v1h-1zM399,355h1v1h-1zM400,371h1v1h-1zM401,377h1v1h-1zM401,383h1v1h-1zM404,360h1v1h-1zM405,366h1v1h-1zM405,348h1v1h-1zM407,381h1v1h-1zM407,354h1v1h-1zM408,361h1v1h-1zM408,377h1v1h-1zM408,376h1v1h-1zM410,363h1v1h-1zM412,375h1v1h-1zM412,386h1v1h-1zM413,372h1v1h-1zM413,348h1v1h-1zM413,363h1v1h-1zM415,359h1v1h-1zM415,352h1v1h-1zM417,372h1v1h-1zM418,387h1v1h-1zM419,381h1v1h-1zM420,389h1v1h-1zM422,363h1v1h-1zM422,368h1v1h-1zM423,367h1v1h-1zM425,379h1v1h-1zM426,350h1v1h-1zM427,351h1v1h-1zM429,368h1v1h-1zM430,363h1v1h-1zM430,349h1v1h-1zM433,350h1v1h-1zM435,375h1v1h-1zM435,365h1v1h-1zM435,363h1v1h-1zM437,362h1v1h-1zM439,356h1v1h-1zM440,359h1v1h-1zM443,378h1v1h-1zM445,343h1v1h-1zM446,365h1v1h-1zM447,352h1v1h-1zM448,384h1v1h-1zM449,357h1v1h-1zM449,360h1v1h-1zM451,374h1v1h-1zM451,350h1v1h-1zM451,364h1v1h-1zM453,372h1v1h-1zM454,376h1v1h-1zM455,378h1v1h-1zM457,385h1v1h-1zM458,359h1v1h-1zM460,348h1v1h-1zM460,351h1v1h-1zM461,353h1v1h-1zM461,378h1v1h-1zM462,349h1v1h-1zM462,368h1v1h-1zM463,382h1v1h-1zM466,352h1v1h-1zM467,364h1v1h-1zM468,358h1v1h-1zM468,345h1v1h-1zM469,345h1v1h-1zM469,354h1v1h-1zM472,354h1v1h-1zM476,374h1v1h-1zM476,357h1v1h-1zM477,373h1v1h-1zM477,380h1v1h-1zM478,376h1v1h-1zM479,353h1v1h-1zM479,344h1v1h-1zM480,369h1v1h-1zM480,363h1v1h-1zM481,374h1v1h-1zM481,369h1v1h-1zM482,361h1v1h-1zM482,370h1v1h-1zM484,353h1v1h-1zM485,364h1v1h-1zM487,381h1v1h-1zM488,348h1v1h-1zM488,380h1v1h-1zM488,357h1v1h-1zM489,368h1v1h-1zM490,380h1v1h-1zM492,341h1v1h-1zM495,359h1v1h-1zM497,379h1v1h-1zM497,351h1v1h-1zM499,377h1v1h-1zM501,368h1v1h-1zM502,346h1v1h-1zM503,379h1v1h-1zM506,374h1v1h-1zM508,370h1v1h-1zM509,351h1v1h-1zM509,375h1v1h-1zM510,345h1v1h-1zM513,358h1v1h-1zM515,335h1v1h-1zM515,364h1v1h-1zM517,366h1v1h-1zM518,369h1v1h-1zM518,334h1v1h-1zM518,351h1v1h-1zM522,336h1v1h-1zM522,360h1v1h-1zM522,368h1v1h-1zM525,356h1v1h-1zM526,369h1v1h-1zM527,335h1v1h-1zM528,355h1v1h-1zM528,360h1v1h-1zM531,338h1v1h-1zM531,345h1v1h-1zM533,355h1v1h-1zM535,352h1v1h-1zM535,348h1v1h-1zM536,338h1v1h-1zM537,367h1v1h-1zM537,331h1v1h-1zM537,358h1v1h-1zM538,370h1v1h-1zM539,363h1v1h-1zM539,349h1v1h-1zM542,341h1v1h-1zM543,352h1v1h-1zM544,361h1v1h-1zM545,352h1v1h-1zM545,368h1v1h-1zM547,333h1v1h-1zM551,371h1v1h-1zM552,363h1v1h-1zM554,339h1v1h-1zM557,370h1v1h-1zM557,366h1v1h-1zM558,368h1v1h-1zM559,336h1v1h-1zM559,348h1v1h-1zM562,333h1v1h-1zM562,366h1v1h-1zM562,351h1v1h-1zM564,352h1v1h-1zM566,357h1v1h-1zM569,340h1v1h-1zM569,369h1v1h-1zM571,362h1v1h-1zM578,330h1v1h-1zM579,326h1v1h-1zM586,342h1v1h-1zM587,338h1v1h-1zM590,346h1v1h-1zM597,365h1v1h-1zM600,351h1v1h-1zM601,352h1v1h-1zM604,352h1v1h-1zM604,325h1v1h-1zM610,339h1v1h-1zM613,346h1v1h-1zM620,348h1v1h-1zM620,329h1v1h-1zM625,343h1v1h-1zM626,347h1v1h-1zM637,361h1v1h-1zM639,322h1v1h-1zM640,332h1v1h-1zM643,331h1v1h-1zM652,343h1v1h-1zM653,353h1v1h-1zM655,333h1v1h-1zM655,331h1v1h-1zM660,345h1v1h-1zM671,336h1v1h-1zM672,321h1v1h-1zM678,321h1v1h-1zM680,320h1v1h-1zM683,334h1v1h-1zM693,326h1v1h-1zM96,298h1v1h-1zM120,293h1v1h-1zM173,318h1v1h-1zM237,283h1v1h-1zM316,209h1v1h-1zM261,237h1v1h-1zM302,226h1v1h-1zM322,262h1v1h-1zM428,223h1v1h-1zM376,239h1v1h-1zM417,260h1v1h-1zM540,231h1v1h-1zM588,263h1v1h-1zM689,313h1v1h-1zM667,317h1v1h-1zM97,368h1v1h-1zM666,317h1v1h-1zM662,320h1v1h-1z" fill="#f4f400"/></g><polyline fill="none" stroke="#1cb8f8" stroke-width="1" shape-rendering="crispEdges" points="44.6,207.6 47.2,195.6 49.8,196.9 55.6,194.1 59.5,195.4 63.4,194.6 66.4,202.4 70.0,194.3 73.2,195.4 77.5,193.0 79.7,195.0 83.6,204.1 86.9,195.6 89.5,196.9 94.7,197.6 96.3,198.2 98.3,213.9 99.5,229.5 101.2,208.6 102.8,201.5 107.7,199.5 112.3,196.7 115.5,211.3 118.1,198.2 119.7,191.1 125.3,188.5 128.5,190.4 130.5,203.4 132.7,227.5 134.0,210.0 135.7,204.1 141.8,194.6 144.2,200.8 146.1,204.5 148.3,204.5 152.2,200.2 155.4,194.1 158.7,198.2 164.3,210.6 168.4,194.1 171.7,197.6 174.7,212.6 177.6,203.4 181.5,209.3 183.2,226.9 184.7,243.8 186.4,213.9 187.7,207.3 189.9,208.4 194.5,203.4 197.5,210.6 200.6,201.2 204.6,213.6 207.5,202.1 210.1,209.3 213.6,228.8 216.4,221.9 220.5,217.4 223.1,221.4 226.6,218.2 230.3,225.6 233.5,210.6 236.8,208.4 239.4,210.6 244.0,229.2 246.3,230.1 249.6,220.4 253.3,228.9 256.5,220.8 259.1,222.8 262.1,237.1 266.3,223.4 270.8,224.5 275.4,224.7 279.6,239.7 282.3,218.2 285.2,227.1 288.4,227.3 292.3,218.5 295.6,240.6 302.5,218.2 305.3,225.4 308.3,231.5 311.5,226.7 315.1,231.3 318.4,225.4 321.4,231.5 324.6,225.4 328.4,232.3 334.6,229.7 337.5,236.5 340.5,234.1 344.7,227.3 351.6,244.3 354.6,237.8 357.6,235.8 360.5,249.1 364.4,232.3 367.6,232.3 370.6,251.2 373.6,236.5 377.8,243.0 380.4,239.5 383.6,244.3 386.6,259.3 391.5,244.3 396.4,239.1 399.9,244.3 403.4,259.3 406.7,246.3 409.0,250.8 413.3,245.6 416.2,252.8 419.5,263.4 422.7,263.2 426.6,250.4 429.9,251.5 432.9,259.3 435.5,270.3 439.6,249.5 445.5,264.2 448.8,264.5 452.4,274.2 455.7,260.6 458.5,264.2 462.6,256.5 468.5,270.2 471.5,258.7 475.4,278.2 481.1,260.8 484.7,285.5 491.5,260.8 495.2,272.8 498.2,272.8 501.4,284.5 504.7,272.8 514.0,272.8 517.6,289.4 524.2,272.8 527.4,272.8 533.6,296.2 537.5,279.3 540.5,287.7 543.6,278.6 547.5,294.2 553.5,287.7 556.4,288.4 560.3,281.9 566.4,304.0 569.6,290.7 579.3,286.5 583.0,295.3 586.6,300.8 589.4,292.6 592.7,303.2 596.7,300.8 599.5,306.9 603.2,305.8 605.9,308.7 612.4,299.5 615.1,338.5 618.4,306.9 622.5,313.1 628.9,304.5 631.7,332.1 635.3,320.1 644.9,314.2 648.6,335.2 651.9,322.9 657.4,319.2 660.7,321.6 664.7,351.4 667.5,326.5 671.2,348.0 674.3,335.7 680.3,340.0 684.6,346.8 687.3,337.0 690.8,343.1 693.8,337.6"/></svg><span class="t" style="left:43.94px;top:160.94px;font-size:10px;line-height:10px;color:#000;transform:scaleX(1.0509);">MB/s</span><span class="t" style="left:679.92px;top:160.53px;font-size:10px;line-height:10px;color:#000;transform:scaleX(1.0317);">ms</span><span class="t" style="left:47.03px;top:173.59px;font-size:11px;line-height:11px;color:#b0b0b0;transform:scaleX(1.0041);">trial version</span><span class="t" style="left:21.82px;top:167.73px;font-size:10px;line-height:10px;color:#000;">150</span><span class="t" style="left:21.82px;top:218.73px;font-size:10px;line-height:10px;color:#000;">125</span><span class="t" style="left:21.82px;top:270.74px;font-size:10px;line-height:10px;color:#000;">100</span><span class="t" style="left:27.38px;top:321.74px;font-size:10px;line-height:10px;color:#000;">75</span><span class="t" style="left:27.38px;top:373.74px;font-size:10px;line-height:10px;color:#000;">50</span><span class="t" style="left:27.38px;top:424.74px;font-size:10px;line-height:10px;color:#000;">25</span><span class="t" style="left:698.70px;top:167.73px;font-size:10px;line-height:10px;color:#000;">60</span><span class="t" style="left:698.70px;top:218.73px;font-size:10px;line-height:10px;color:#000;">50</span><span class="t" style="left:698.70px;top:270.74px;font-size:10px;line-height:10px;color:#000;">40</span><span class="t" style="left:698.70px;top:321.74px;font-size:10px;line-height:10px;color:#000;">30</span><span class="t" style="left:698.70px;top:373.74px;font-size:10px;line-height:10px;color:#000;">20</span><span class="t" style="left:698.70px;top:424.74px;font-size:10px;line-height:10px;color:#000;">10</span><span class="t" style="left:41.72px;top:487.54px;font-size:10px;line-height:10px;color:#000;">0</span><span class="t" style="left:103.54px;top:487.54px;font-size:10px;line-height:10px;color:#000;">50</span><span class="t" style="left:165.76px;top:487.54px;font-size:10px;line-height:10px;color:#000;">100</span><span class="t" style="left:230.76px;top:487.54px;font-size:10px;line-height:10px;color:#000;">150</span><span class="t" style="left:295.76px;top:487.54px;font-size:10px;line-height:10px;color:#000;">200</span><span class="t" style="left:360.76px;top:487.54px;font-size:10px;line-height:10px;color:#000;">250</span><span class="t" style="left:425.76px;top:487.54px;font-size:10px;line-height:10px;color:#000;">300</span><span class="t" style="left:490.76px;top:487.54px;font-size:10px;line-height:10px;color:#000;">350</span><span class="t" style="left:555.76px;top:487.54px;font-size:10px;line-height:10px;color:#000;">400</span><span class="t" style="left:620.76px;top:487.54px;font-size:10px;line-height:10px;color:#000;">450</span><span class="t" style="left:678.18px;top:487.54px;font-size:10px;line-height:10px;color:#000;transform:scaleX(1.0500);">500gB</span><div class="b" style="left:737px;top:153px;width:73px;height:21px;background:#e1e1e1;border:2px solid #0078d7"></div><span class="t" style="left:761.75px;top:157.74px;font-size:12px;line-height:12px;color:#000;transform:scaleX(0.8414);">Start</span><div class="b sep" style="left:728px;top:184px;width:101px;height:1px;"></div><div class="b sep" style="left:728px;top:223px;width:101px;height:1px;"></div><div class="b sep" style="left:728px;top:295px;width:101px;height:1px;"></div><div class="b sep" style="left:728px;top:399px;width:101px;height:1px;"></div><svg style="left:732px;top:189px" width="16" height="32" viewBox="732 189 16 32">
<circle cx="739.5" cy="196.5" r="6" fill="#fff" stroke="#333" stroke-width="1"/>
<circle cx="739.5" cy="196.5" r="3.3" fill="#333"/>
<circle cx="739.5" cy="212.5" r="6" fill="#fff" stroke="#333" stroke-width="1"/>
</svg><span class="t" style="left:748.72px;top:191.14px;font-size:12px;line-height:12px;color:#000;transform:scaleX(0.8987);">Read</span><span class="t" style="left:749.46px;top:207.14px;font-size:12px;line-height:12px;color:#000;transform:scaleX(0.8712);">Write</span><div class="b chk" style="left:733px;top:231px;width:13px;height:13px;"></div><span class="t" style="left:749.13px;top:232.34px;font-size:12px;line-height:12px;color:#000;transform:scaleX(0.8707);">Short stroke</span><div class="b" style="left:733px;top:251px;width:62px;height:20px;background:#fff;border:1px solid #c8c8c8"></div><span class="t" style="left:735.65px;top:254.74px;font-size:12px;line-height:12px;color:#6d6d6d;transform:scaleX(0.9585);">40</span><div class="b" style="left:777px;top:252px;width:17px;height:9px;background:#f0f0f0;border:1px solid #d4d4dc"></div><div class="b" style="left:777px;top:261px;width:17px;height:9px;background:#f0f0f0;border:1px solid #d4d4dc"></div><svg style="left:777px;top:252px" width="17" height="18"><polygon points="6,6.2 8.5,3.4 11,6.2" fill="#555"/><polygon points="6,11.8 8.5,14.6 11,11.8" fill="#555"/></svg><span class="t" style="left:805.96px;top:254.74px;font-size:12px;line-height:12px;color:#000;transform:scaleX(0.8710);">gB</span><div class="b chk" style="left:733px;top:280px;width:13px;height:13px;"></div><svg style="left:733px;top:280px" width="13" height="13"><polyline points="2.6,6.4 5.3,9.2 10.6,3.4" fill="none" stroke="#222" stroke-width="1.25"/></svg><span class="t" style="left:749.37px;top:281.04px;font-size:12px;line-height:12px;color:#000;transform:scaleX(0.8688);">Transfer rate</span><span class="t" style="left:732.88px;top:298.64px;font-size:12px;line-height:12px;color:#000;transform:scaleX(0.8357);">Minimum</span><div class="b blk" style="left:733px;top:314px;width:92px;height:14px;"></div><span class="t" style="left:749.53px;top:314.54px;font-size:12px;line-height:12px;font-weight:bold;color:#1cb0fa;transform:scaleX(1.0892);">62.9 MB/s</span><span class="t" style="left:732.87px;top:331.84px;font-size:12px;line-height:12px;color:#000;transform:scaleX(0.8459);">Maximum</span><div class="b blk" style="left:733px;top:346px;width:92px;height:14px;"></div><span class="t" style="left:746.20px;top:346.54px;font-size:12px;line-height:12px;font-weight:bold;color:#1cb0fa;transform:scaleX(1.0723);">141.9 MB/s</span><span class="t" style="left:733.48px;top:361.84px;font-size:12px;line-height:12px;color:#000;transform:scaleX(0.8720);">Average</span><div class="b blk" style="left:733px;top:377px;width:92px;height:14px;"></div><span class="t" style="left:746.18px;top:377.54px;font-size:12px;line-height:12px;font-weight:bold;color:#1cb0fa;transform:scaleX(1.0961);">111.9 MB/s</span><div class="b chk" style="left:733px;top:405px;width:13px;height:13px;"></div><svg style="left:733px;top:405px" width="13" height="13"><polyline points="2.6,6.4 5.3,9.2 10.6,3.4" fill="none" stroke="#222" stroke-width="1.25"/></svg><span class="t" style="left:749.78px;top:405.64px;font-size:12px;line-height:12px;color:#000;transform:scaleX(0.8639);">Access time</span><div class="b blk" style="left:733px;top:421px;width:92px;height:14px;"></div><span class="t" style="left:757.25px;top:421.54px;font-size:12px;line-height:12px;font-weight:bold;color:#f4f400;transform:scaleX(1.0046);">16.7 ms</span><div class="b chk" style="left:733px;top:439px;width:13px;height:13px;"></div><svg style="left:733px;top:439px" width="13" height="13"><polyline points="2.6,6.4 5.3,9.2 10.6,3.4" fill="none" stroke="#222" stroke-width="1.25"/></svg><span class="t" style="left:748.95px;top:439.54px;font-size:12px;line-height:12px;color:#000;transform:scaleX(0.8632);">Burst rate</span><div class="b blk" style="left:733px;top:455px;width:92px;height:14px;"></div><span class="t" style="left:745.76px;top:455.54px;font-size:12px;line-height:12px;font-weight:bold;color:#fff;transform:scaleX(1.0795);">207.6 MB/s</span><span class="t" style="left:732.87px;top:472.54px;font-size:12px;line-height:12px;color:#000;transform:scaleX(0.8865);">CPU usage</span><div class="b blk" style="left:733px;top:488px;width:92px;height:14px;"></div><span class="t" style="left:763.27px;top:488.54px;font-size:12px;line-height:12px;font-weight:bold;color:#fff;transform:scaleX(0.9859);">10.1%</span><div class="b" style="left:844px;top:1px;width:1px;height:514px;background:#55504c"></div><div class="b" style="left:0px;top:514px;width:845px;height:1px;background:#55504c"></div><div class="b" style="left:0px;top:515px;width:845px;height:2px;background:linear-gradient(90deg,#0a1e46 0%,#0c3f7a 50%,#0858a8 100%)"></div></body></html>
